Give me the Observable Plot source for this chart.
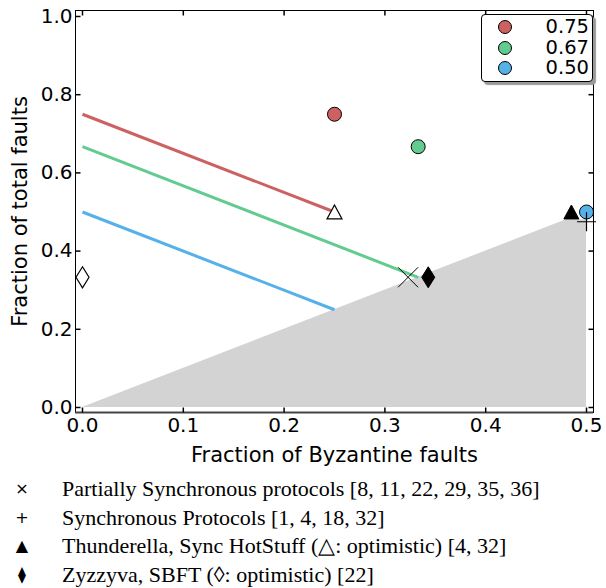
<!DOCTYPE html>
<html><head><meta charset="utf-8">
<script src="https://cdn.jsdelivr.net/npm/d3@7"></script>
<script src="https://cdn.jsdelivr.net/npm/@observablehq/plot@0.6"></script>
<style>
body{margin:0;background:#fff;}
#wrap{position:relative;width:606px;height:588px;overflow:hidden;}
#key{position:absolute;left:481px;top:14px;width:110px;height:66px;border:1px solid #000;border-radius:4px;background:#fff;box-shadow:3px 3px 1px #999;font-family:"DejaVu Sans";font-size:19.5px;}
.krow{position:absolute;left:0;width:110px;height:20px;}
.kdot{position:absolute;left:16px;top:3px;width:14px;height:14px;border-radius:50%;border:1px solid #000;box-sizing:border-box;}
.klab{position:absolute;right:3px;top:0;line-height:20px;}
#notes{position:absolute;left:0;top:475px;font-family:"Liberation Serif";font-size:22px;color:#000;}
.nrow{height:28.5px;line-height:28.5px;white-space:nowrap;position:relative;}
.nsym{position:absolute;left:2px;width:40px;text-align:center;font-family:"DejaVu Sans";font-size:16px;}
.ntxt{position:absolute;left:62px;}
</style></head><body><div id="wrap"></div>
<script>
// ---- data ----
const thresholdLabels = ["0.75", "0.67", "0.50"];
const thresholdColors = ["#cd6161", "#63ca90", "#56b1e8"];
const lineStartX = [0, 0, 0];
const lineStartY = [0.75, 0.667, 0.5];
const lineEndX = [0.25, 0.333, 0.25];
const lineEndY = [0.5, 0.333, 0.25];
const circleX = [0.25, 0.333, 0.5];
const circleY = [0.75, 0.667, 0.5];
const regionX = [0, 0.48, 0.5];
const regionTop = [0, 0.48, 0.48];
const markerKind = ["times", "diamond", "diamondOpen", "triangleOpen", "triangle", "plus"];
const markerX = [0.323, 0.343, 0, 0.25, 0.485, 0.5];
const markerY = [0.333, 0.333, 0.333, 0.5, 0.5, 0.475];
const xTicks = [0, 0.1, 0.2, 0.3, 0.4, 0.5];
const yTicks = [0, 0.2, 0.4, 0.6, 0.8, 1.0];
const noteGlyphs = ["×", "+", "▲", "⧫"];
const noteTexts = [
  "Partially Synchronous protocols [8, 11, 22, 29, 35, 36]",
  "Synchronous Protocols [1, 4, 18, 32]",
  "Thunderella, Sync HotStuff (△: optimistic) [4, 32]",
  "Zyzzyva, SBFT (◊: optimistic) [22]"
];

// ---- symbols ----
const mk = f => ({draw(c, size) { f(c, Math.sqrt(size / Math.PI)); }});
const SYM = {
  times: mk((c, r) => {c.moveTo(-r, -r); c.lineTo(r, r); c.moveTo(-r, r); c.lineTo(r, -r);}),
  plus: mk((c, r) => {c.moveTo(-r, 0); c.lineTo(r, 0); c.moveTo(0, -r); c.lineTo(0, r);}),
  tri: mk((c, r) => {c.moveTo(0, -0.93 * r); c.lineTo(r, 0.93 * r); c.lineTo(-r, 0.93 * r); c.closePath();}),
  dia: mk((c, r) => {c.moveTo(0, -r); c.lineTo(0.62 * r, 0); c.lineTo(0, r); c.lineTo(-0.62 * r, 0); c.closePath();}),
  up: mk((c, r) => {c.moveTo(0, 0); c.lineTo(0, -r);}),
  down: mk((c, r) => {c.moveTo(0, 0); c.lineTo(0, r);}),
  right: mk((c, r) => {c.moveTo(0, 0); c.lineTo(r, 0);}),
  left: mk((c, r) => {c.moveTo(0, 0); c.lineTo(-r, 0);})
};
const markerStyle = {
  times: {symbol: SYM.times, r: 10, fill: "none", stroke: "black", strokeWidth: 1},
  plus: {symbol: SYM.plus, r: 9.5, fill: "none", stroke: "black", strokeWidth: 1.2},
  triangle: {symbol: SYM.tri, r: 7.5, fill: "black", stroke: "black", strokeWidth: 1},
  triangleOpen: {symbol: SYM.tri, r: 7.5, fill: "white", stroke: "black", strokeWidth: 1.2},
  diamond: {symbol: SYM.dia, r: 10.5, fill: "black", stroke: "black", strokeWidth: 1},
  diamondOpen: {symbol: SYM.dia, r: 10.5, fill: "white", stroke: "black", strokeWidth: 1.2}
};

const lines = thresholdLabels.map((t, i) => ({t, x1: lineStartX[i], y1: lineStartY[i], x2: lineEndX[i], y2: lineEndY[i], c: thresholdColors[i]}));
const circles = thresholdLabels.map((t, i) => ({t, x: circleX[i], y: circleY[i], c: thresholdColors[i]}));
const region = regionX.map((x, i) => ({x, y: regionTop[i]}));
const markers = markerKind.map((k, i) => ({k, x: markerX[i], y: markerY[i]}));

const markerMarks = markers.map(m => Plot.dot([m], {x: "x", y: "y", ...markerStyle[m.k]}));

const chart = Plot.plot({
  width: 606,
  height: 470,
  marginLeft: 75,
  marginRight: 13,
  marginTop: 10,
  marginBottom: 58,
  style: {fontFamily: "DejaVu Sans", fontSize: "20px", color: "black", background: "white", overflow: "visible"},
  x: {domain: [-0.00694, 0.50694]},
  y: {domain: [-0.0128, 1.0153]},
  marks: [
    Plot.areaY(region, {x: "x", y1: 0, y2: "y", fill: "#d3d3d3"}),
    Plot.link(lines, {x1: "x1", y1: "y1", x2: "x2", y2: "y2", stroke: "c", strokeWidth: 3}),
    Plot.dot(circles, {x: "x", y: "y", r: 7, fill: "c", stroke: "black", strokeWidth: 1}),
    ...markerMarks,
    Plot.frame({stroke: "black", strokeWidth: 1}),
    Plot.ruleY([-0.0128], {stroke: "#444", strokeWidth: 2}),
    Plot.dot(xTicks, {x: d => d, frameAnchor: "bottom", symbol: SYM.up, r: 5, stroke: "black", fill: "none"}),
    Plot.dot(xTicks, {x: d => d, frameAnchor: "top", symbol: SYM.down, r: 5, stroke: "black", fill: "none"}),
    Plot.dot(yTicks, {y: d => d, frameAnchor: "left", symbol: SYM.right, r: 5, stroke: "black", fill: "none"}),
    Plot.dot(yTicks, {y: d => d, frameAnchor: "right", symbol: SYM.left, r: 5, stroke: "black", fill: "none"}),
    Plot.axisX({ticks: xTicks, tickSize: 0, tickPadding: 5, tickFormat: d3.format(".1f"), label: "Fraction of Byzantine faults", labelAnchor: "center", labelArrow: "none", labelOffset: 49, fontSize: 20}),
    Plot.axisY({ticks: yTicks, tickSize: 0, tickPadding: 3, tickFormat: d3.format(".1f"), label: "Fraction of total faults", labelAnchor: "center", labelArrow: "none", labelOffset: 63, fontSize: 20})
  ]
});
chart.style.overflow = "visible";
chart.setAttribute("fill", "black");
// axis labels slightly larger than tick labels
chart.querySelectorAll("g[aria-label='x-axis label'] text, g[aria-label='y-axis label'] text").forEach(t => t.setAttribute("font-size", "21"));
const wrap = document.getElementById("wrap");
wrap.appendChild(chart);

// threshold key (top right)
const key = document.createElement("div");
key.id = "key";
thresholdLabels.forEach((t, i) => {
  const row = document.createElement("div");
  row.className = "krow";
  row.style.top = (2 + i * 20.5) + "px";
  const dot = document.createElement("div");
  dot.className = "kdot";
  dot.style.background = thresholdColors[i];
  const lab = document.createElement("div");
  lab.className = "klab";
  lab.textContent = t;
  row.appendChild(dot); row.appendChild(lab);
  key.appendChild(row);
});
wrap.appendChild(key);

// notes below
const notes = document.createElement("div");
notes.id = "notes";
noteTexts.forEach((t, i) => {
  const row = document.createElement("div");
  row.className = "nrow";
  const s = document.createElement("span");
  s.className = "nsym";
  s.textContent = noteGlyphs[i];
  const tx = document.createElement("span");
  tx.className = "ntxt";
  tx.textContent = t;
  row.appendChild(s); row.appendChild(tx);
  notes.appendChild(row);
});
wrap.appendChild(notes);
</script></body></html>
